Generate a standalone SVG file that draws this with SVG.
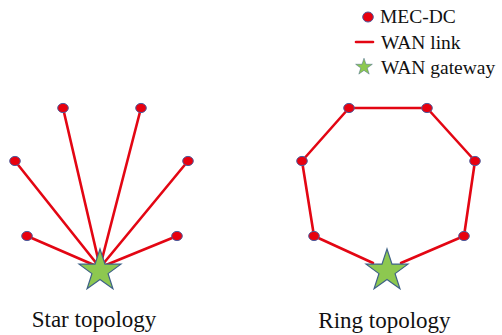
<svg xmlns="http://www.w3.org/2000/svg" width="502" height="335" viewBox="0 0 502 335">
<style>
.link{stroke:#E30613;stroke-width:2.6;fill:none;stroke-linecap:round;stroke-linejoin:round}
.dc{fill:#E8000E;stroke:#4E5A9C;stroke-width:1}
.gw{fill:#8DC850;stroke:#3F6288;stroke-width:1.2;stroke-linejoin:miter}
text{fill:#111}
</style>
<defs>
<polygon id="starshape" points="0,-22 5,-6.88 20.92,-6.8 8.08,2.63 12.93,17.8 0,8.5 -12.93,17.8 -8.08,2.63 -20.92,-6.8 -5,-6.88"/>
</defs>
<rect width="502" height="335" fill="#fff"/>
<g id="legend" font-family="Liberation Serif, Times New Roman, serif" font-size="19.5">
<ellipse class="dc" cx="368" cy="17" rx="5.3" ry="5"/>
<text x="380" y="23">MEC-DC</text>
<line class="link" x1="356" y1="42" x2="373" y2="42" stroke-linecap="butt"/>
<text x="381" y="49">WAN link</text>
<use href="#starshape" class="gw" transform="translate(364,67) scale(0.4)" stroke-width="2.5"/>
<text x="381" y="74">WAN gateway</text>
</g>
<g id="connectors">
<line class="link" x1="63" y1="108" x2="99" y2="263"/>
<line class="link" x1="141" y1="108" x2="101" y2="263"/>
<line class="link" x1="15" y1="161" x2="97" y2="264"/>
<line class="link" x1="188" y1="161" x2="103" y2="264"/>
<line class="link" x1="27" y1="236" x2="94" y2="265"/>
<line class="link" x1="177" y1="236" x2="106" y2="265"/>
<polyline class="link" points="373,263 314,236 302,161 349,108 427,108 475,161 464,236 401,263"/>
</g>
<g id="star-gateway"><use href="#starshape" class="gw" transform="translate(100,271)"/></g>
<g id="star-dc1"><ellipse class="dc" cx="63" cy="108" rx="5.3" ry="4.6"/></g>
<g id="star-dc2"><ellipse class="dc" cx="141" cy="108" rx="5.3" ry="4.6"/></g>
<g id="star-dc3"><ellipse class="dc" cx="15" cy="161" rx="5.3" ry="4.6"/></g>
<g id="star-dc4"><ellipse class="dc" cx="188" cy="161" rx="5.3" ry="4.6"/></g>
<g id="star-dc5"><ellipse class="dc" cx="27" cy="236" rx="5.3" ry="4.6"/></g>
<g id="star-dc6"><ellipse class="dc" cx="177" cy="236" rx="5.3" ry="4.6"/></g>
<g id="ring-gateway"><use href="#starshape" class="gw" transform="translate(387,271)"/></g>
<g id="ring-dc1"><ellipse class="dc" cx="349" cy="108" rx="5.3" ry="4.6"/></g>
<g id="ring-dc2"><ellipse class="dc" cx="427" cy="108" rx="5.3" ry="4.6"/></g>
<g id="ring-dc3"><ellipse class="dc" cx="302" cy="161" rx="5.3" ry="4.6"/></g>
<g id="ring-dc4"><ellipse class="dc" cx="475" cy="161" rx="5.3" ry="4.6"/></g>
<g id="ring-dc5"><ellipse class="dc" cx="314" cy="236" rx="5.3" ry="4.6"/></g>
<g id="ring-dc6"><ellipse class="dc" cx="464" cy="236" rx="5.3" ry="4.6"/></g>
<g id="captions" font-family="Liberation Serif, Times New Roman, serif" font-size="23" text-anchor="middle">
<text x="94" y="327">Star topology</text>
<text x="384.5" y="328">Ring topology</text>
</g>
</svg>
